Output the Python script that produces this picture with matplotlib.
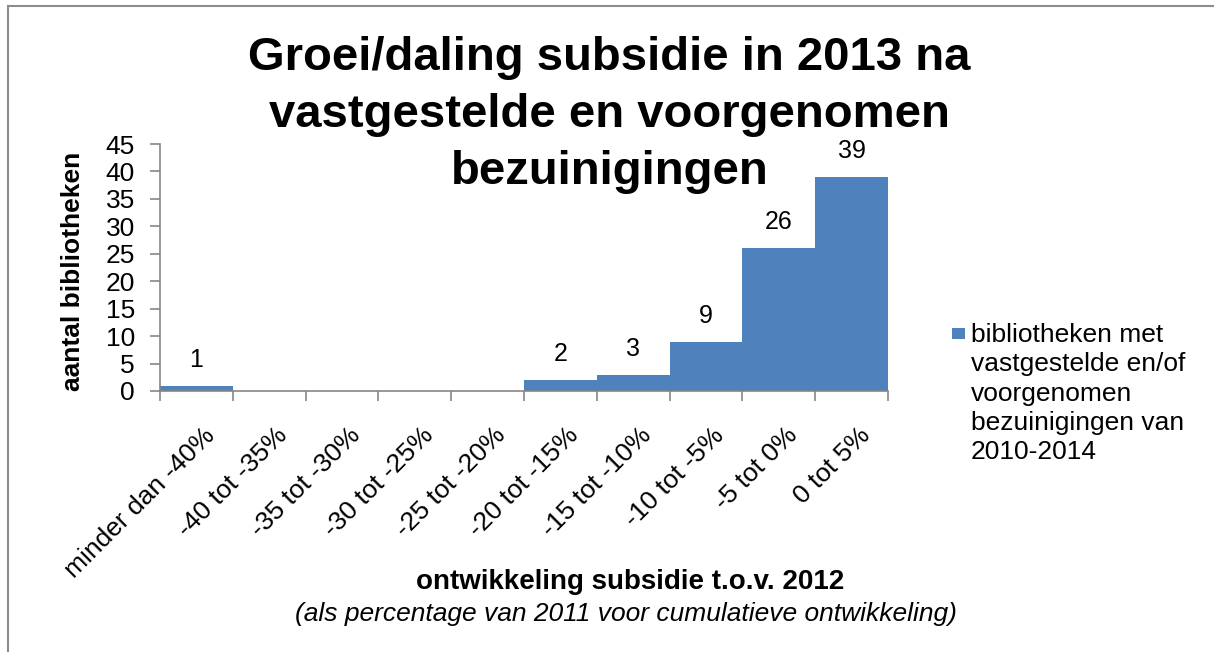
import numpy as np
import matplotlib.pyplot as plt
from matplotlib.lines import Line2D
from matplotlib.patches import Rectangle
import matplotlib.transforms as mtransforms

plt.rcParams['font.family'] = ['Liberation Sans', 'DejaVu Sans']

# data
categories = ['minder dan -40%', '-40 tot -35%', '-35 tot -30%', '-30 tot -25%',
              '-25 tot -20%', '-20 tot -15%', '-15 tot -10%', '-10 tot -5%',
              '-5 tot 0%', '0 tot 5%']
counts = [1, 0, 0, 0, 0, 2, 3, 9, 26, 39]
series_name = 'bibliotheken met\nvastgestelde en/of\nvoorgenomen\nbezuinigingen van\n2010-2014'
title_lines = ['Groei/daling subsidie in 2013 na', 'vastgestelde en voorgenomen', 'bezuinigingen']
xlabel = 'ontwikkeling subsidie t.o.v. 2012'
xlabel2 = '(als percentage van 2011 voor cumulatieve ontwikkeling)'
ylabel = 'aantal bibliotheken'

bar_color = '#4F81BD'
axis_color = '#868686'
W, H = 1214, 652

fig = plt.figure(figsize=(W / 100, H / 100), dpi=100)
ax = fig.add_axes([160 / W, 1 - 391 / H, 728 / W, 247 / H])

x = np.arange(len(categories))
ax.bar(x, counts, width=1.0, align='edge', color=bar_color, edgecolor='none')

ax.set_xlim(0, len(categories))
ax.set_ylim(0, 45)
ax.set_yticks(range(0, 46, 5))
ax.tick_params(axis='y', labelsize=19, length=7, color=axis_color, width=1.2, pad=11)

# category boundaries as ticks, labels in between
ax.set_xticks(range(len(categories) + 1))
ax.set_xticklabels([])
ax.tick_params(axis='x', length=7, color=axis_color, width=1.2)
ax.set_xticks(x + 0.5, minor=True)
ax.set_xticklabels(categories, minor=True, rotation=45, ha='right', va='top',
                   rotation_mode='anchor', fontsize=19)
ax.tick_params(axis='x', which='minor', length=0, pad=23)
offset = mtransforms.ScaledTranslation(0.06, 0, fig.dpi_scale_trans)
for lbl in ax.get_xticklabels(minor=True):
    lbl.set_transform(lbl.get_transform() + offset)

for s in ['top', 'right']:
    ax.spines[s].set_visible(False)
for s in ['left', 'bottom']:
    ax.spines[s].set_color(axis_color)
    ax.spines[s].set_linewidth(1.2)

# data labels
for xi, c in zip(x, counts):
    if c > 0:
        ax.annotate(str(c), (xi + 0.5, c), xytext=(0, 10), textcoords='offset points',
                    ha='center', va='bottom', fontsize=18)

fig.text(73 / W, 1 - 271 / H, ylabel, rotation=90, ha='center', va='center',
         fontsize=19, fontweight='bold')

# title, one text per line
for i, line in enumerate(title_lines):
    fig.text(0.502, 1 - (70 + 57 * i) / H, line, ha='center', va='baseline',
             fontsize=34, fontweight='bold')

fig.text(630 / W, 1 - 582 / H, xlabel, ha='center', va='center', fontsize=20, fontweight='bold')
fig.text(626 / W, 1 - 614 / H, xlabel2, ha='center', va='center', fontsize=19, style='italic')

# legend
fig.add_artist(Rectangle((952 / W, 1 - 339 / H), 13 / W, 11 / H, transform=fig.transFigure,
                         facecolor=bar_color, edgecolor='none'))
fig.text(971 / W, 1 - 323 / H, series_name, ha='left', va='top', fontsize=19,
         linespacing=1.28)

# chart border (top and left visible)
fig.add_artist(Line2D([8 / W, 8 / W], [0, 1 - 6 / H], color='#8c8c8c', lw=1.5,
                      transform=fig.transFigure))
fig.add_artist(Line2D([8 / W, 1], [1 - 6 / H, 1 - 6 / H], color='#8c8c8c', lw=1.5,
                      transform=fig.transFigure))

fig.savefig('out.png', dpi=100)
